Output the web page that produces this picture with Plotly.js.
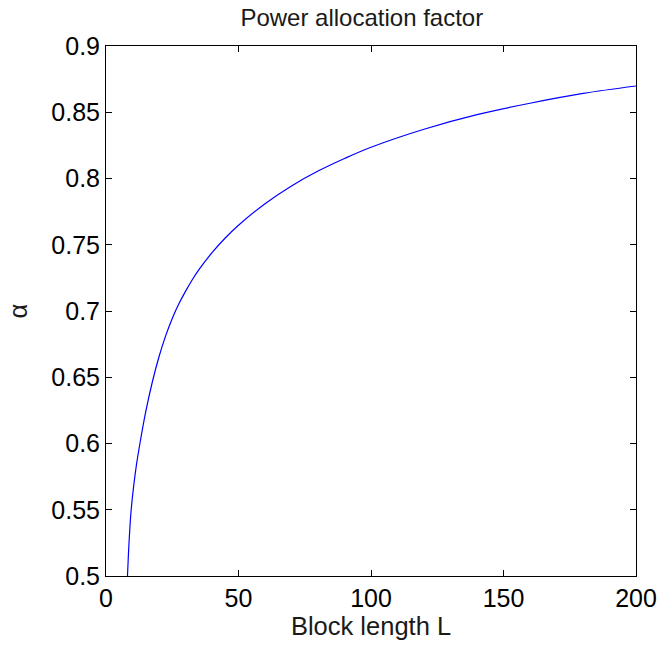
<!DOCTYPE html>
<html>
<head>
<meta charset="utf-8">
<script src="https://cdn.plot.ly/plotly-3.0.1.min.js"></script>
<style>html,body{margin:0;padding:0;background:#fff;}</style>
</head>
<body>
<div id="chart" style="width:659px;height:646px;"></div>
<script>
const blockLength = [8.1, 8.5, 9.0, 9.5, 10.5, 11.5, 12.8, 15, 17.5, 20, 22.5, 25, 27.5, 30, 32.5, 35, 40, 45, 50, 60, 70, 80, 90, 100, 120, 140, 160, 180, 200];
const alpha = [0.500, 0.518, 0.536, 0.550, 0.569, 0.584, 0.600, 0.624, 0.6466, 0.6655, 0.6812, 0.6944, 0.7054, 0.7148, 0.7234, 0.7310, 0.7440, 0.7551, 0.7647, 0.781, 0.7944, 0.8056, 0.8151, 0.8236, 0.8372, 0.8482, 0.8568, 0.8642, 0.8698];
const xTicks = [0, 50, 100, 150, 200];
const yTicks = [0.5, 0.55, 0.6, 0.65, 0.7, 0.75, 0.8, 0.85, 0.9];

const family = 'Liberation Sans, Arial, sans-serif';
const tickFont = {family: family, size: 25, color: '#000'};
const titleFont = {family: family, size: 24, color: '#1a1a1a'};
const axisTitleFont = {family: family, size: 25.5, color: '#1a1a1a'};

Plotly.newPlot('chart', [{
  x: blockLength, y: alpha, type: 'scatter', mode: 'lines',
  line: {color: '#0000ff', width: 1.2, shape: 'spline', smoothing: 1},
  showlegend: false
}], {
  width: 659, height: 646,
  margin: {l: 106, r: 23, t: 46, b: 70},
  paper_bgcolor: '#fff', plot_bgcolor: '#fff',
  font: tickFont,
  title: {text: 'Power allocation factor', font: titleFont, x: 0.549, xanchor: 'center', y: 0.973, yanchor: 'middle'},
  xaxis: {
    range: [0, 200], tickvals: xTicks, ticktext: xTicks.map(String),
    ticks: 'inside', ticklen: 6, tickcolor: '#000', tickwidth: 1,
    showline: true, linecolor: '#000', linewidth: 1, mirror: 'ticks',
    showgrid: false, zeroline: false,
    tickfont: tickFont,
    title: {text: 'Block length L', font: axisTitleFont, standoff: 6}
  },
  yaxis: {
    range: [0.5, 0.9], tickvals: yTicks, ticktext: yTicks.map(String),
    ticks: 'inside', ticklen: 6, tickcolor: '#000', tickwidth: 1,
    showline: true, linecolor: '#000', linewidth: 1, mirror: 'ticks',
    showgrid: false, zeroline: false,
    tickfont: tickFont,
    title: {text: 'α', font: axisTitleFont, standoff: 16}
  }
}, {staticPlot: true});
</script>
</body>
</html>
